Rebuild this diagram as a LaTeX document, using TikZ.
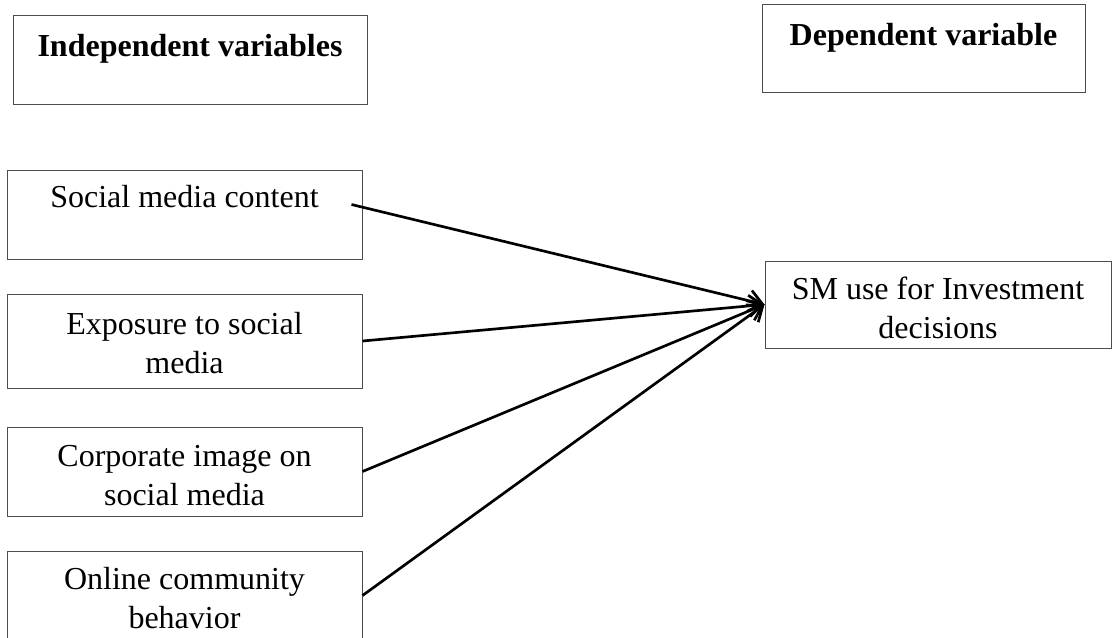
\documentclass[tikz,border=0pt]{standalone}
\usepackage{fontspec}
\setmainfont{Liberation Serif}
\usetikzlibrary{arrows.meta}

\begin{document}
\begin{tikzpicture}[
    x = 0.75pt, y = -0.75pt,
    box/.style = {draw = black!70, line width = 0.75pt, inner ysep = 0pt,
                  align = center, font = \fontsize{24pt}{29pt}\selectfont},
    head/.style = {box, font = \fontsize{24pt}{29pt}\selectfont\bfseries},
    conn/.style = {line width = 2pt, -{Straight Barb[length = 10pt, width = 16pt]}}]

\clip (0,0) rectangle (1113,637);

% headings
\node[head, minimum width = 265.5pt, text height = 30.75pt, text depth = 36pt]
    (indep) at (190,59.5) {Independent variables};
\node[head, minimum width = 242.25pt, text height = 30.75pt, text depth = 35.25pt]
    (dep) at (923.5,48) {Dependent variable};

% independent variables
\node[box, minimum width = 266.25pt, text height = 27.75pt, text depth = 39pt]
    (content) at (184.5,214.5) {Social media content};
\node[box, minimum width = 266.25pt, text height = 59.25pt, text depth = 11.25pt]
    (exposure) at (184.5,341) {Exposure to social\\media};
\node[box, minimum width = 266.25pt, text height = 58.5pt, text depth = 8.25pt]
    (image) at (184.5,471.5) {Corporate image on\\social media};
\node[box, minimum width = 266.25pt, text height = 57.75pt, text depth = 9pt]
    (community) at (184.5,595.5) {Online community\\behavior};

% dependent variable
\node[box, minimum width = 259.5pt, text height = 57.75pt, text depth = 7.5pt]
    (use) at (938,304.5) {SM use for Investment\\decisions};

\draw[conn] ([shift = {(-11,-10)}]content.east) -- (use.west);
\draw[conn] (exposure.east) -- (use.west);
\draw[conn] (image.east) -- (use.west);
\draw[conn] (community.east) -- (use.west);
\end{tikzpicture}
\end{document}
